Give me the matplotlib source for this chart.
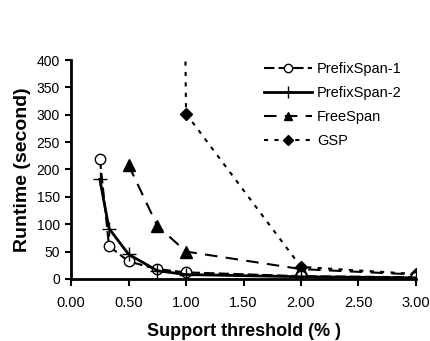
import matplotlib
matplotlib.use("Agg")
import matplotlib.pyplot as plt

plt.rcParams['font.family'] = ['Liberation Sans', 'DejaVu Sans']

x_p1 = [0.25, 0.33, 0.50, 0.75, 1.00, 2.00, 3.00]
y_p1 = [220, 60, 32, 18, 12, 5, 3]
x_p2 = [0.25, 0.33, 0.50, 0.75, 1.00, 2.00, 3.00]
y_p2 = [182, 92, 45, 15, 8, 4, 2]
x_fs = [0.50, 0.75, 1.00, 2.00, 3.00]
y_fs = [208, 97, 50, 18, 8]
x_gsp = [0.75, 1.00, 2.00, 3.00]
y_gsp = [5000, 302, 22, 9]

xticks = [0.0, 0.5, 1.0, 1.5, 2.0, 2.5, 3.0]
yticks = [0, 50, 100, 150, 200, 250, 300, 350, 400]

fig = plt.figure(figsize=(4.31, 3.41), dpi=100)
ax = fig.add_axes([0.165, 0.182, 0.8, 0.642])

ax.plot(x_gsp, y_gsp, linestyle=(0, (2, 3)), color='black', lw=1.5,
        marker='D', markersize=6, mfc='black', mec='black', label='GSP', clip_on=True)
ax.plot(x_fs, y_fs, linestyle=(0, (6, 4)), color='black', lw=1.5,
        marker='^', markersize=8, mfc='black', mec='black', label='FreeSpan')
ax.plot(x_p1, y_p1, linestyle=(0, (5, 2)), color='black', lw=1.5,
        marker='o', markersize=7.5, mfc='white', mec='black', mew=1.0, label='PrefixSpan-1')
ax.plot(x_p2, y_p2, linestyle='-', color='black', lw=2.0,
        marker='+', markersize=10, mec='black', mew=1.0, label='PrefixSpan-2')

ax.set_xlim(0, 3.0)
ax.set_ylim(0, 400)
ax.set_xticks(xticks)
ax.set_xticklabels([f"{v:.2f}" for v in xticks])
ax.set_yticks(yticks)
ax.tick_params(axis='both', direction='out', width=1.5, colors='black')
ax.tick_params(axis='x', length=5, pad=7, labelsize=10.5)
ax.tick_params(axis='y', length=4, pad=4, labelsize=10)
for s in ['top', 'right']:
    ax.spines[s].set_visible(False)
for s in ['left', 'bottom']:
    ax.spines[s].set_linewidth(2)

ax.set_xlabel('Support threshold (% )', fontsize=13, fontweight='bold', labelpad=10)
ax.set_ylabel('Runtime (second)', fontsize=14, fontweight='bold', labelpad=4)

handles, labels = ax.get_legend_handles_labels()
order = [2, 3, 1, 0]
leg = ax.legend([handles[i] for i in order], [labels[i] for i in order],
                loc='upper left', bbox_to_anchor=(0.52, 1.05), frameon=False,
                fontsize=10.5, handlelength=3.3, handletextpad=0.35, labelspacing=0.68,
                markerscale=0.8)

fig.savefig('out.png', dpi=100)
